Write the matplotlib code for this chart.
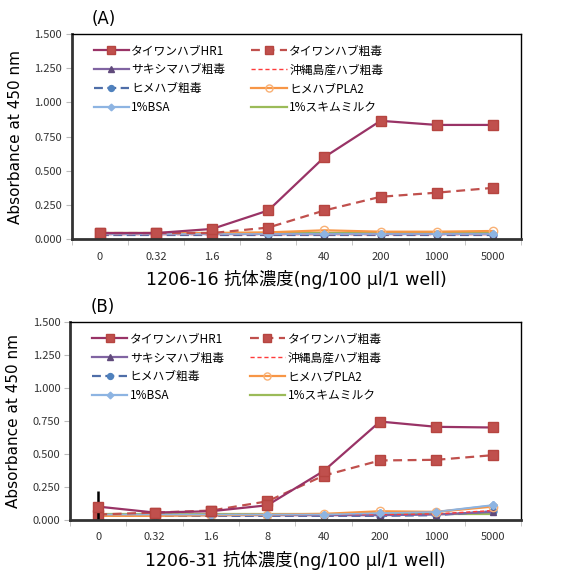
import matplotlib
matplotlib.use("Agg")
import matplotlib.pyplot as plt

plt.rcParams['font.family'] = ['Noto Sans CJK JP', 'DejaVu Sans']

# x categories (antibody concentration)
conc = ["0", "0.32", "1.6", "8", "40", "200", "1000", "5000"]

series_names = ["タイワンハブHR1", "タイワンハブ粗毒", "サキシマハブ粗毒", "沖縄島産ハブ粗毒",
                "ヒメハブ粗毒", "ヒメハブPLA2", "1%BSA", "1%スキムミルク"]

# panel A (1206-16)
a_hr1 = [0.045, 0.045, 0.075, 0.21, 0.60, 0.865, 0.835, 0.835]
a_crude = [0.045, 0.045, 0.045, 0.085, 0.21, 0.31, 0.34, 0.375]
a_saki = [0.035, 0.035, 0.035, 0.035, 0.035, 0.035, 0.035, 0.035]
a_oki = [0.04, 0.04, 0.04, 0.04, 0.04, 0.04, 0.04, 0.04]
a_hime = [0.03, 0.03, 0.03, 0.03, 0.03, 0.03, 0.03, 0.03]
a_pla2 = [0.045, 0.045, 0.045, 0.05, 0.065, 0.055, 0.055, 0.06]
a_bsa = [0.04, 0.04, 0.04, 0.04, 0.04, 0.04, 0.04, 0.04]
a_milk = [0.045, 0.045, 0.045, 0.045, 0.045, 0.045, 0.045, 0.045]
a_hr1_err = [0, 0, 0, 0, 0, 0, 0, 0.03]
a_crude_err = [0, 0, 0, 0, 0, 0, 0.02, 0]

# panel B (1206-31)
b_hr1 = [0.10, 0.055, 0.065, 0.11, 0.37, 0.745, 0.705, 0.70]
b_crude = [0.04, 0.055, 0.07, 0.14, 0.335, 0.45, 0.455, 0.49]
b_saki = [0.035, 0.035, 0.035, 0.035, 0.035, 0.035, 0.04, 0.06]
b_oki = [0.04, 0.04, 0.04, 0.04, 0.04, 0.04, 0.045, 0.07]
b_hime = [0.03, 0.03, 0.03, 0.03, 0.03, 0.03, 0.035, 0.065]
b_pla2 = [0.03, 0.03, 0.035, 0.04, 0.045, 0.065, 0.06, 0.10]
b_bsa = [0.04, 0.04, 0.04, 0.04, 0.04, 0.05, 0.06, 0.11]
b_milk = [0.045, 0.045, 0.045, 0.045, 0.045, 0.045, 0.045, 0.045]
b_hr1_err = [0.115, 0, 0, 0, 0, 0, 0, 0]
b_crude_err = [0, 0, 0, 0, 0, 0, 0.02, 0]

yticks = [0.0, 0.25, 0.5, 0.75, 1.0, 1.25, 1.5]
latin = ['DejaVu Sans', 'Noto Sans CJK JP']


def draw_panel(ax, data, errs, label, xlabel):
    x = range(len(conc))
    hr1, crude, saki, oki, hime, pla2, bsa, milk = data
    h = {}
    h[6] = ax.plot(x, bsa, color='#8DB4E2', lw=1.6, marker='D', ms=4,
                   mfc='#8DB4E2', mec='#8DB4E2', label=series_names[6])[0]
    h[7] = ax.plot(x, milk, color='#9BBB59', lw=1.6, label=series_names[7])[0]
    h[4] = ax.plot(x, hime, color='#4F6EA8', lw=1.6, ls=(0, (4, 2)), marker='o', ms=5,
                   mfc='#4F81BD', mec='#4F81BD', label=series_names[4])[0]
    h[2] = ax.plot(x, saki, color='#8064A2', lw=1.6, marker='^', ms=5,
                   mfc='#604A7B', mec='#604A7B', label=series_names[2])[0]
    h[3] = ax.plot(x, oki, color='#FF3B3B', lw=1.0, ls=(0, (3, 2)), label=series_names[3])[0]
    h[5] = ax.plot(x, pla2, color='#F79646', lw=1.6, marker='o', ms=6,
                   mfc='none', mec='#F9B074', label=series_names[5])[0]
    ax.plot(x, bsa, color='#8DB4E2', lw=1.2, marker='D', ms=4, mfc='#8DB4E2', mec='#8DB4E2')
    ax.errorbar(x, crude, yerr=errs[1], color='black', lw=0, elinewidth=1.2, capsize=0)
    h[1] = ax.plot(x, crude, color='#C0504D', lw=1.6, ls=(0, (4, 2.5)), marker='s', ms=6.5,
                   mfc='#C0504D', mec='#B64540', label=series_names[1])[0]
    ax.errorbar(x, hr1, yerr=errs[0], color='black', lw=0, elinewidth=1.8, capsize=0)
    h[0] = ax.plot(x, hr1, color='#993366', lw=1.6, marker='s', ms=6.5,
                   mfc='#C0504D', mec='#B64540', label=series_names[0])[0]

    order = [0, 2, 4, 6, 1, 3, 5, 7]
    ax.legend([h[i] for i in order], [series_names[i] for i in order], ncol=2,
              loc='upper left', frameon=False, handlelength=3.0, handletextpad=0.2,
              columnspacing=2.2, labelspacing=0.5, borderaxespad=0.5, markerscale=0.85,
              bbox_to_anchor=(0.025, 1.0), prop={'size': 8.5})

    ax.set_xlim(-0.5, len(conc) - 0.5)
    ax.set_ylim(0, 1.5)
    ax.set_yticks(yticks)
    ax.set_yticklabels(["%.3f" % v for v in yticks], fontsize=8, color='#333333')
    ax.set_xticks(range(len(conc)))
    ax.set_xticklabels(conc, fontsize=8, color='#333333')
    ax.tick_params(axis='x', length=0, pad=9)
    ax.set_xticks([i - 0.5 for i in range(len(conc) + 1)], minor=True)
    ax.tick_params(axis='x', which='minor', length=4, color='#BBBBBB')
    ax.tick_params(axis='y', length=4, color='#BBBBBB', pad=3)
    for s in ['left', 'bottom']:
        ax.spines[s].set_linewidth(2.0)
        ax.spines[s].set_color('#333333')
    for s in ['top', 'right']:
        ax.spines[s].set_linewidth(1.0)
        ax.spines[s].set_color('black')
    ax.set_ylabel("Absorbance at 450 nm", fontsize=11, labelpad=8, family='DejaVu Sans')
    ax.set_xlabel(xlabel, fontsize=12.5, labelpad=6, family=latin)
    ax.text(0.045, 1.03, label, transform=ax.transAxes, fontsize=12, ha='left', va='bottom',
            family='DejaVu Sans')


fig = plt.figure(figsize=(5.65, 5.75), dpi=100)
ax1 = fig.add_axes([0.127, 0.584, 0.795, 0.357])
ax2 = fig.add_axes([0.124, 0.096, 0.798, 0.344])

draw_panel(ax1, [a_hr1, a_crude, a_saki, a_oki, a_hime, a_pla2, a_bsa, a_milk],
           [a_hr1_err, a_crude_err], "(A)", "1206-16 抗体濃度(ng/100 µl/1 well)")
draw_panel(ax2, [b_hr1, b_crude, b_saki, b_oki, b_hime, b_pla2, b_bsa, b_milk],
           [b_hr1_err, b_crude_err], "(B)", "1206-31 抗体濃度(ng/100 µl/1 well)")

fig.savefig("out.png", dpi=100)
